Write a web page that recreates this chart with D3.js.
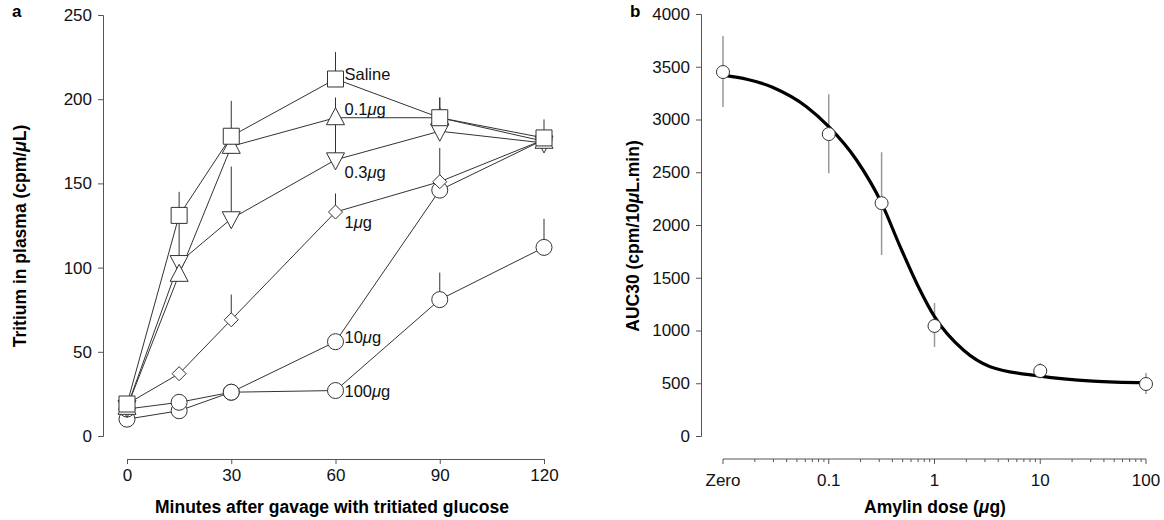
<!DOCTYPE html>
<html>
<head>
<meta charset="utf-8">
<script src="https://cdn.jsdelivr.net/npm/d3@7"></script>
<style>
  body { margin: 0; background: white; }
  text { font-family: "Liberation Sans", Arial, sans-serif; }
</style>
</head>
<body>
<div id="chart"></div>
<script>
// ---- DATA (panel a) ---------------------------------------------------------
const times = [0, 15, 30, 60, 90, 120]
const saline    = [19, 131, 178, 212, 189, 177]
const salineErr = [0, 14, 21, 16, 12, 11]
const dose01    = [17, 96, 172, 189, 189, 175]
const dose01Err = [0, 0, 0, 12, 0, 0]
const dose03    = [17, 103, 129, 164, 181, 174]
const dose03Err = [0, 28, 31, 25, 20, 0]
const dose1     = [19, 37, 69, 133, 151, 176]
const dose1Err  = [0, 0, 15, 11, 20, 0]
const dose10    = [16, 20, 26, 56, 146, 176]
const dose10Err = [0, 0, 0, 4, 0, 0]
const dose100   = [10, 15, 26, 27, 81, 112]
const dose100Err = [0, 0, 0, 0, 16, 17]
const timeTicks = [0, 30, 60, 90, 120]
const plasmaTicks = [0, 50, 100, 150, 200, 250]

// ---- DATA (panel b) ---------------------------------------------------------
const doseLabels = ["Zero", "0.1", "1", "10", "100"]
const doseTickVals = [0.01, 0.1, 1, 10, 100]
const doses  = [0.01, 0.1, 0.316, 1, 10, 100]   // "Zero" plotted at 0.01
const auc    = [3450, 2862, 2207, 1043, 616, 493]
const aucLow = [3118, 2490, 1716, 843, 545, 398]
const aucHigh = [3791, 3240, 2690, 1260, 690, 597]
// fitted curve
const fitDose = [0.01, 0.0294, 0.0616, 0.1, 0.183, 0.316, 0.471, 0.7, 1, 1.875, 3.36, 10, 31.6, 100]
const fitAuc  = [3420, 3305, 3121, 2932, 2616, 2207, 1800, 1420, 1131, 815, 657, 568, 521, 505]
const aucTicks = [0, 500, 1000, 1500, 2000, 2500, 3000, 3500, 4000]

// ---- SETUP ------------------------------------------------------------------
const width = 1164, height = 520
const axisColor = "#555", lineColor = "#333"
const tickFont = 17, titleFont = 17.5, labelFont = 16.5

const svg = d3.select("#chart").append("svg")
  .attr("width", width).attr("height", height)

const styleAxis = ax => {
  ax.select(".domain").attr("stroke", axisColor)
  ax.selectAll(".tick line").attr("stroke", axisColor)
  ax.selectAll("text").attr("font-size", tickFont).attr("fill", "#111")
    .style("font-family", "Liberation Sans, Arial, sans-serif")
}

// ---- PANEL A ----------------------------------------------------------------
const xA = d3.scaleLinear().domain([0, 120]).range([127, 544])
const yA = d3.scaleLinear().domain([0, 250]).range([436, 15])
const axisY = 459

const gA = svg.append("g")

styleAxis(gA.append("g")
  .attr("transform", `translate(0,${axisY})`)
  .call(d3.axisBottom(xA).tickValues(timeTicks).tickSize(5).tickPadding(5)))
styleAxis(gA.append("g")
  .attr("transform", `translate(103,0)`)
  .call(d3.axisLeft(yA).tickValues(plasmaTicks).tickSize(5).tickPadding(6)))

gA.append("text").attr("x", 332).attr("y", 513).attr("text-anchor", "middle")
  .attr("font-size", titleFont).attr("font-weight", "bold")
  .text("Minutes after gavage with tritiated glucose")
gA.append("text").attr("transform", "translate(26,236) rotate(-90)")
  .attr("text-anchor", "middle").attr("font-size", titleFont).attr("font-weight", "bold")
  .html('Tritium in plasma (cpm/<tspan font-style="italic">μ</tspan>L)')
gA.append("text").attr("x", 12).attr("y", 17).attr("font-size", 17)
  .attr("font-weight", "bold").text("a")

const series = [
  { name: "Saline", vals: saline,  err: salineErr,  shape: "square" },
  { name: "0.1",    vals: dose01,  err: dose01Err,  shape: "triUp" },
  { name: "0.3",    vals: dose03,  err: dose03Err,  shape: "triDown" },
  { name: "1",      vals: dose1,   err: dose1Err,   shape: "diamond" },
  { name: "10",     vals: dose10,  err: dose10Err,  shape: "circle" },
  { name: "100",    vals: dose100, err: dose100Err, shape: "circle" }
]

const line = d3.line().x(d => xA(d[0])).y(d => yA(d[1]))

// lines first
series.forEach(s => {
  gA.append("path")
    .datum(times.map((t, i) => [t, s.vals[i]]))
    .attr("d", line).attr("fill", "none")
    .attr("stroke", lineColor).attr("stroke-width", 1)
})
// error bars (upper only)
series.forEach(s => {
  gA.selectAll(null).data(times.map((t, i) => [t, s.vals[i], s.err[i]]).filter(d => d[2] > 0))
    .enter().append("line")
    .attr("x1", d => xA(d[0])).attr("x2", d => xA(d[0]))
    .attr("y1", d => yA(d[1])).attr("y2", d => yA(d[1] + d[2]))
    .attr("stroke", lineColor).attr("stroke-width", 1)
})

const markerPath = (shape) => {
  switch (shape) {
    case "square":  return "M-8,-8H8V8H-8Z"
    case "triUp":   return "M0,-10L9,7H-9Z"
    case "triDown": return "M0,10L9,-7H-9Z"
    case "diamond": return "M0,-7L7,0L0,7L-7,0Z"
  }
}

// markers, drawn bottom series first
series.slice().reverse().forEach(s => {
  const pts = times.map((t, i) => [t, s.vals[i]])
  if (s.shape === "circle") {
    gA.selectAll(null).data(pts).enter().append("circle")
      .attr("cx", d => xA(d[0])).attr("cy", d => yA(d[1])).attr("r", 8)
      .attr("fill", "white").attr("stroke", lineColor).attr("stroke-width", 1)
  } else {
    gA.selectAll(null).data(pts).enter().append("path")
      .attr("transform", d => `translate(${xA(d[0])},${yA(d[1])})`)
      .attr("d", markerPath(s.shape))
      .attr("fill", "white").attr("stroke", lineColor).attr("stroke-width", 1)
  }
})

// series labels next to the 60 min point (baseline offset from the marker)
const labelDy = [1, -3, 18, 16, 1, 6]
series.forEach((s, i) => {
  const t = gA.append("text")
    .attr("x", xA(60) + 9).attr("y", yA(s.vals[3]) + labelDy[i])
    .attr("font-size", labelFont).attr("fill", "#111")
  if (s.name === "Saline") t.text("Saline")
  else t.html(`${s.name}<tspan font-style="italic">μ</tspan>g`)
})

// ---- PANEL B ----------------------------------------------------------------
const xB = d3.scaleLog().domain([0.01, 100]).range([723, 1146])
const yB = d3.scaleLinear().domain([0, 4000]).range([436, 14])

const gB = svg.append("g")

// x axis: log with minor ticks
const minorTicks = []
doseTickVals.slice(0, -1).forEach(p => { for (let k = 2; k <= 9; k++) minorTicks.push(p * k) })
gB.append("line").attr("x1", xB(0.01)).attr("x2", xB(100))
  .attr("y1", axisY).attr("y2", axisY).attr("stroke", axisColor)
gB.selectAll(null).data(minorTicks).enter().append("line")
  .attr("x1", d => xB(d)).attr("x2", d => xB(d))
  .attr("y1", axisY).attr("y2", axisY + 3).attr("stroke", axisColor)
gB.selectAll(null).data(doseTickVals).enter().append("line")
  .attr("x1", d => xB(d)).attr("x2", d => xB(d))
  .attr("y1", axisY).attr("y2", axisY + 5).attr("stroke", axisColor)
gB.selectAll(null).data(doseTickVals).enter().append("text")
  .attr("x", d => xB(d)).attr("y", 486).attr("text-anchor", "middle")
  .attr("font-size", tickFont).attr("fill", "#111")
  .text((d, i) => doseLabels[i])

styleAxis(gB.append("g")
  .attr("transform", `translate(701,0)`)
  .call(d3.axisLeft(yB).tickValues(aucTicks).tickFormat(d3.format("d")).tickSize(5).tickPadding(6)))

gB.append("text").attr("x", 935).attr("y", 513).attr("text-anchor", "middle")
  .attr("font-size", titleFont).attr("font-weight", "bold")
  .html('Amylin dose (<tspan font-style="italic">μ</tspan>g)')
gB.append("text").attr("transform", "translate(639,236) rotate(-90)")
  .attr("text-anchor", "middle").attr("font-size", titleFont).attr("font-weight", "bold")
  .html('AUC30 (cpm/10<tspan font-style="italic">μ</tspan>L.min)')
gB.append("text").attr("x", 630).attr("y", 17).attr("font-size", 17)
  .attr("font-weight", "bold").text("b")

// error bars
gB.selectAll(null).data(doses).enter().append("line")
  .attr("x1", d => xB(d)).attr("x2", d => xB(d))
  .attr("y1", (d, i) => yB(aucLow[i])).attr("y2", (d, i) => yB(aucHigh[i]))
  .attr("stroke", "#999").attr("stroke-width", 1.5)

// fitted curve
gB.append("path")
  .datum(fitDose.map((d, i) => [d, fitAuc[i]]))
  .attr("d", d3.line().x(d => xB(d[0])).y(d => yB(d[1])).curve(d3.curveMonotoneX))
  .attr("fill", "none").attr("stroke", "black").attr("stroke-width", 3.2)

// points
gB.selectAll(null).data(doses).enter().append("circle")
  .attr("cx", d => xB(d)).attr("cy", (d, i) => yB(auc[i])).attr("r", 6.5)
  .attr("fill", "white").attr("stroke", lineColor).attr("stroke-width", 1)
</script>
</body>
</html>
